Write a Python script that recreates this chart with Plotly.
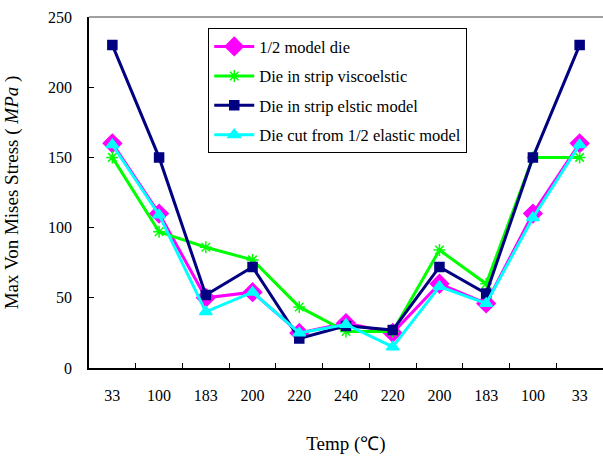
import plotly.graph_objects as go

temps = ["33", "100", "183", "200", "220", "240", "220", "200", "183", "100", "33"]
half_model = [160, 110, 50, 54, 25, 32, 25, 60, 46, 110, 160]
strip_visco = [150, 97, 86, 77, 43.5, 26, 26, 84, 60, 150, 150]
strip_elastic = [230, 150, 52, 72, 21, 30, 27, 72, 53, 150, 230]
cut_half = [159, 109, 40, 54, 25, 31, 15, 58, 46, 107, 159]

names = ["1/2 model die", "Die in strip viscoelstic", "Die in strip elstic model",
         "Die cut from 1/2 elastic model"]
colors = ["#FF00FF", "#00FF00", "#000080", "#00FFFF"]
symbols = ["diamond", "asterisk-open", "square", "triangle-up"]
sizes = [14, 10, 9, 11]
series = [half_model, strip_visco, strip_elastic, cut_half]

xs = list(range(len(temps)))
fig = go.Figure()
for name, col, sym, sz, ys in zip(names, colors, symbols, sizes, series):
    fig.add_trace(go.Scatter(
        x=xs, y=ys, name=name, mode="lines+markers", legendgroup=name,
        line=dict(color=col, width=3),
        marker=dict(symbol=sym, size=sz, color=col, line=dict(color=col, width=1.5)),
    ))

font = dict(family="Liberation Serif, Times New Roman, serif", size=16, color="black")
fig.update_layout(
    width=603, height=457,
    margin=dict(l=89, r=0, t=17, b=89),
    paper_bgcolor="white", plot_bgcolor="white",
    font=font,
    showlegend=True,
    legend=dict(x=0.232, y=0.968, xanchor="left", yanchor="top",
                bgcolor="white", bordercolor="black", borderwidth=1,
                tracegroupgap=5, itemwidth=40,
                font=dict(family="Liberation Serif, Times New Roman, serif", size=16.5, color="black")),
    xaxis=dict(range=[-0.5, 10.5], tickmode="array", tickvals=xs, ticktext=temps,
               ticks="", showline=True, linecolor="black", linewidth=1.5,
               showgrid=False, zeroline=False, ticklabelstandoff=12,
               minor=dict(tickmode="array", tickvals=[i + 0.5 for i in range(10)],
                          ticks="inside", ticklen=5, tickcolor="black", tickwidth=1),
               title=dict(text="Temp (℃)", standoff=34)),
    yaxis=dict(range=[0, 250], dtick=50, ticks="inside", ticklen=5, tickcolor="black",
               showline=True, linecolor="black", linewidth=1.5,
               showgrid=False, zeroline=False, ticklabelstandoff=12,
               title=dict(text="Max Von Mises Stress ( <i>MPa</i> )", standoff=24)),
)
fig.add_shape(type="line", xref="paper", yref="paper", x0=0, x1=1, y0=1, y1=1,
              line=dict(color="#808080", width=1.5))
fig.write_html("out.html")
